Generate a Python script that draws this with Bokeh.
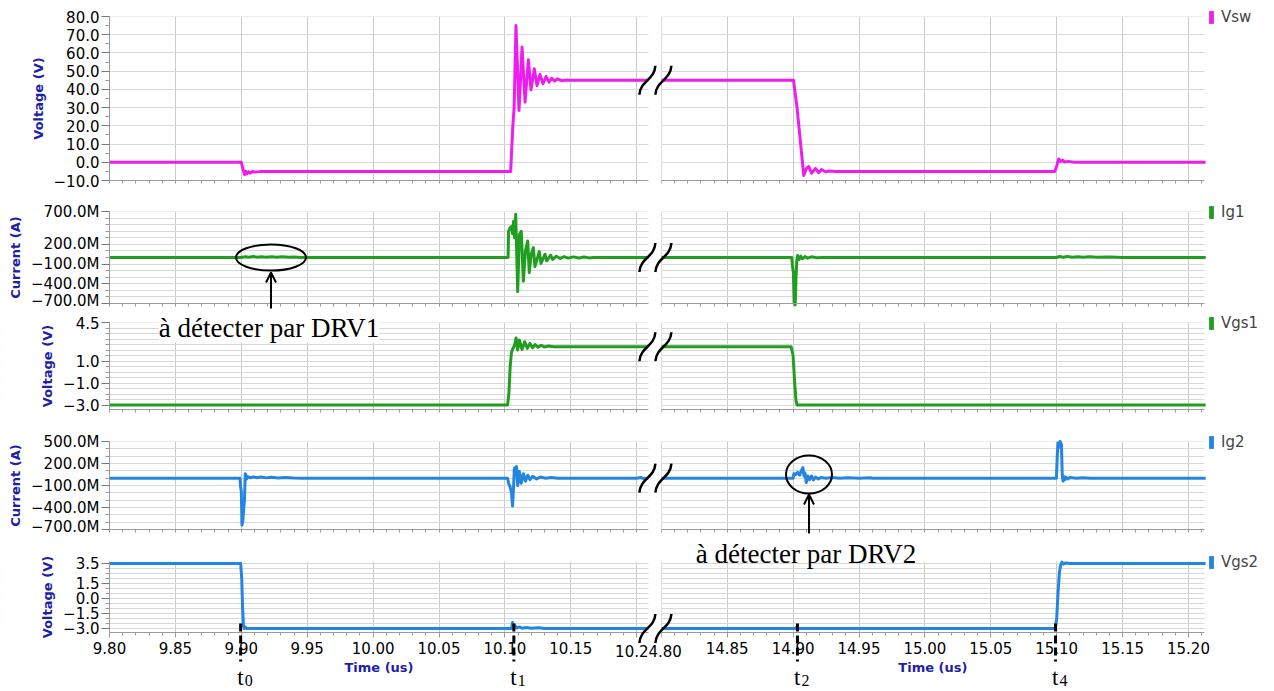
from bokeh.plotting import figure
from bokeh.layouts import column
from bokeh.models import (Range1d, FixedTicker, Legend, LegendItem, Label, Arrow,
                          OpenHead, BoxAnnotation)
from bokeh.embed import file_html
from bokeh.resources import INLINE

# ---------------- data (time in us, value) ----------------
VSW_LEFT = [(9.8000, 0.0), (9.9000, 0.0), (9.9012, -3.5), (9.9025, -6.8), (9.9035, -5.0),
            (9.9045, -6.3), (9.9055, -5.2), (9.9068, -5.9), (9.9085, -5.1), (9.9110, -5.4),
            (9.9150, -5.0), (10.1044, -5.0), (10.1052, 8.0), (10.1061, 21.0), (10.1070, 30.0),
            (10.1084, 75.0), (10.1107, 28.4), (10.1130, 63.2), (10.1153, 33.0), (10.1178, 56.2),
            (10.1198, 39.8), (10.1223, 51.3), (10.1244, 42.1), (10.1266, 48.2), (10.1289, 43.1),
            (10.1312, 47.1), (10.1335, 44.0), (10.1355, 46.1), (10.1378, 44.5), (10.1398, 45.8),
            (10.1430, 44.8), (10.1470, 45.2), (10.1500, 45.0), (10.2090, 45.0)]
VSW_RIGHT = [(14.8000, 45.0), (14.9003, 45.0), (14.9030, 30.0), (14.9060, 8.0), (14.9081, -7.3),
             (14.9100, -3.5), (14.9119, -2.3), (14.9140, -6.0), (14.9170, -3.4), (14.9193, -5.7),
             (14.9215, -4.0), (14.9246, -5.2), (14.9280, -4.8), (14.9320, -5.0), (15.0985, -5.0),
             (15.1000, -2.0), (15.1015, 1.8), (15.1030, 0.4), (15.1045, 1.2), (15.1060, 0.1),
             (15.1090, 0.5), (15.1130, 0.0), (15.2130, 0.0)]

IG1_LEFT = [(9.8000, 0.0), (9.9000, 0.0), (9.9030, 0.012), (9.9060, 0.004), (9.9090, 0.014),
            (9.9120, 0.005), (9.9150, 0.013), (9.9190, 0.004), (9.9230, 0.012), (9.9270, 0.003),
            (9.9310, 0.011), (9.9360, 0.003), (9.9400, 0.008), (9.9450, 0.0), (10.1024, 0.0),
            (10.1028, 0.40), (10.1040, 0.45), (10.1050, 0.47), (10.1058, 0.36), (10.1066, 0.55),
            (10.1074, 0.30), (10.1082, 0.66), (10.1097, -0.52), (10.1110, 0.35), (10.1124, 0.40),
            (10.1140, -0.36), (10.1156, 0.10), (10.1173, 0.25), (10.1185, -0.23), (10.1200, 0.05),
            (10.1216, 0.15), (10.1228, -0.14), (10.1261, 0.09), (10.1274, -0.09), (10.1304, 0.05),
            (10.1317, -0.05), (10.1347, 0.035), (10.1363, -0.03), (10.1390, 0.02), (10.1420, -0.015),
            (10.1450, 0.012), (10.1480, -0.01), (10.1520, 0.01), (10.1560, -0.008), (10.1600, 0.008),
            (10.1640, -0.006), (10.1671, 0.0), (10.2090, 0.0)]
IG1_RIGHT = [(14.8000, 0.0), (14.8990, 0.0), (14.8996, -0.15), (14.9002, -0.22), (14.9008, -0.70),
             (14.9016, -0.72), (14.9022, -0.30), (14.9028, -0.05), (14.9034, 0.03), (14.9045, -0.03),
             (14.9058, 0.02), (14.9070, -0.02), (14.9090, 0.015), (14.9110, -0.01), (14.9140, 0.01),
             (14.9180, -0.005), (14.9220, 0.0), (15.1000, 0.0), (15.1020, 0.015), (15.1050, 0.003),
             (15.1080, 0.014), (15.1120, 0.004), (15.1160, 0.012), (15.1200, 0.003), (15.1250, 0.01),
             (15.1300, 0.002), (15.1400, 0.006), (15.1500, 0.0), (15.2130, 0.0)]

VGS1_LEFT = [(9.8000, -3.0), (10.1020, -3.0), (10.1030, -2.0), (10.1040, 0.5), (10.1050, 1.8),
             (10.1060, 2.1), (10.1075, 2.5), (10.1085, 3.1), (10.1097, 2.0), (10.1110, 2.9),
             (10.1130, 2.05), (10.1150, 2.75), (10.1170, 2.15), (10.1190, 2.6), (10.1210, 2.2),
             (10.1230, 2.5), (10.1250, 2.25), (10.1275, 2.42), (10.1300, 2.28), (10.1330, 2.36),
             (10.1370, 2.3), (10.2090, 2.3)]
VGS1_RIGHT = [(14.8000, 2.3), (14.8985, 2.3), (14.9000, 1.5), (14.9012, -1.0), (14.9022, -2.6),
              (14.9030, -3.0), (15.2130, -3.0)]

IG2_LEFT = [(9.8000, 0.0), (9.8990, 0.0), (9.8995, -0.12), (9.9000, -0.18), (9.9005, -0.64),
            (9.9012, -0.58), (9.9018, -0.42), (9.9024, -0.30), (9.9030, 0.06), (9.9036, 0.04),
            (9.9042, -0.01), (9.9050, 0.02), (9.9070, 0.005), (9.9090, 0.018), (9.9120, 0.006),
            (9.9150, 0.015), (9.9190, 0.004), (9.9230, 0.012), (9.9280, 0.003), (9.9330, 0.01),
            (9.9400, 0.002), (9.9470, 0.0), (10.1020, 0.0), (10.1030, -0.08), (10.1040, -0.12),
            (10.1050, -0.20), (10.1058, -0.38), (10.1065, -0.15), (10.1072, 0.14), (10.1080, 0.06),
            (10.1088, 0.16), (10.1097, -0.10), (10.1110, 0.09), (10.1124, -0.07), (10.1140, 0.06),
            (10.1156, -0.04), (10.1173, 0.04), (10.1190, -0.02), (10.1210, 0.025), (10.1240, -0.01),
            (10.1270, 0.015), (10.1310, 0.0), (10.1350, 0.008), (10.1400, 0.0), (10.2000, 0.0),
            (10.2030, 0.01), (10.2050, -0.005), (10.2070, 0.0), (10.2090, 0.0)]
IG2_RIGHT = [(14.8000, 0.0), (14.9000, 0.0), (14.9006, 0.06), (14.9020, 0.05), (14.9035, 0.08),
             (14.9050, 0.04), (14.9062, 0.10), (14.9074, 0.145), (14.9082, 0.03), (14.9090, 0.07),
             (14.9100, -0.06), (14.9112, 0.03), (14.9125, -0.02), (14.9140, 0.03), (14.9155, -0.025),
             (14.9170, 0.015), (14.9190, -0.01), (14.9210, 0.008), (14.9250, 0.0), (14.9300, 0.008),
             (14.9350, 0.0), (14.9420, 0.007), (14.9500, 0.0), (14.9587, 0.005), (14.9600, 0.0),
             (15.0998, 0.0), (15.1004, 0.30), (15.1010, 0.48), (15.1018, 0.42), (15.1026, 0.50),
             (15.1036, 0.46), (15.1042, 0.05), (15.1048, -0.04), (15.1055, 0.02), (15.1062, -0.02),
             (15.1070, 0.015), (15.1085, -0.01), (15.1100, 0.008), (15.1150, 0.0), (15.1200, 0.005),
             (15.1250, 0.0), (15.2130, 0.0)]

VGS2_LEFT = [(9.8000, 3.45), (9.8995, 3.45), (9.9003, 2.0), (9.9010, -1.0), (9.9016, -2.6),
             (9.9022, -3.0), (9.9030, -2.85), (9.9040, -3.0), (10.1050, -3.0), (10.1058, -2.4),
             (10.1066, -2.9), (10.1075, -2.7), (10.1090, -2.95), (10.1110, -2.85), (10.1130, -2.97),
             (10.1160, -2.9), (10.1200, -2.97), (10.1260, -2.93), (10.1300, -3.0), (10.2090, -3.0)]
VGS2_RIGHT = [(14.8000, -3.0), (14.9020, -3.0), (14.9030, -2.8), (14.9040, -3.0), (15.0990, -3.0),
              (15.1000, -2.0), (15.1010, 0.5), (15.1020, 2.5), (15.1030, 3.3), (15.1040, 3.6),
              (15.1050, 3.4), (15.1070, 3.5), (15.1100, 3.45), (15.2130, 3.45)]

# event markers
T_MARKS = [9.8995, 10.1068, 14.9033, 15.0991]
T_SUBS = ["0", "1", "2", "4"]

# x ticks (two segments)
X_TICKS_LEFT = [9.80, 9.85, 9.90, 9.95, 10.00, 10.05, 10.10, 10.15, 10.20]
X_LABELS_LEFT = ["9.80", "9.85", "9.90", "9.95", "10.00", "10.05", "10.10", "10.15", ""]
X_TICKS_RIGHT = [14.80, 14.85, 14.90, 14.95, 15.00, 15.05, 15.10, 15.15, 15.20]
X_LABELS_RIGHT = ["", "14.85", "14.90", "14.95", "15.00", "15.05", "15.10", "15.15", "15.20"]
BREAK_TICK_LABEL = "10.24.80"

# y ticks
VSW_TICKS = [-10.0, 0.0, 10.0, 20.0, 30.0, 40.0, 50.0, 60.0, 70.0, 80.0]
VSW_LABELS = ["\u221210.0", "0.0", "10.0", "20.0", "30.0", "40.0", "50.0", "60.0", "70.0", "80.0"]
VSW_MINOR = [-5.0, 5.0, 15.0, 25.0, 35.0, 45.0, 55.0, 65.0, 75.0]
IG1_TICKS = [-0.7, -0.4, -0.1, 0.2, 0.7]
IG1_LABELS = ["\u2212700.0M", "\u2212400.0M", "\u2212100.0M", "200.0M", "700.0M"]
IG1_MINOR = [-0.6, -0.5, -0.3, -0.2, 0.0, 0.1, 0.3, 0.4, 0.5, 0.6]
VGS1_TICKS = [-3.0, -1.0, 1.0, 4.5]
VGS1_LABELS = ["\u22123.0", "\u22121.0", "1.0", "4.5"]
VGS1_MINOR = [-2.5, -2.0, -1.5, -0.5, 0.0, 0.5, 1.5, 2.0, 2.5, 3.0, 3.5, 4.0]
IG2_TICKS = [-0.7, -0.4, -0.1, 0.2, 0.5]
IG2_LABELS = ["\u2212700.0M", "\u2212400.0M", "\u2212100.0M", "200.0M", "500.0M"]
IG2_MINOR = [-0.6, -0.5, -0.3, -0.2, 0.0, 0.1, 0.3, 0.4]
VGS2_TICKS = [-3.0, -1.5, 0.0, 1.5, 3.5]
VGS2_LABELS = ["\u22123.0", "\u22121.5", "0.0", "1.5", "3.5"]
VGS2_MINOR = [-2.5, -2.0, -1.0, -0.5, 0.5, 1.0, 2.0, 2.5, 3.0]

# ---------------- style / layout constants ----------------
MAGENTA = "#ee1cee"
GREEN = "#1f9e1f"
BLUE = "#2385e2"
TITLE_BLUE = "#1e1eaa"
GRID_H = "#d8d8d8"
GRID_V = "#cbcbcb"
AXIS_GRAY = "#9a9a9a"
TICK_FONT = "DejaVu Sans"
SERIF = "Liberation Serif"
NAN = float("nan")

FIG_W = 1272
FRAME_X0 = 109                    # page px of the panels' left edge
PX = 1.0 / 1318.0                 # us per pixel
X_START = 9.80
X_RANGE_START = X_START - FRAME_X0 * PX           # plotting frame spans the whole canvas
X_RANGE_END = X_START + (FIG_W - FRAME_X0) * PX
X_END = X_START + (1204 - FRAME_X0) * PX          # end of the plotted panel
LEFT_END = X_START + (648 - FRAME_X0) * PX
GAP_END = X_START + (660.8 - FRAME_X0) * PX
RIGHT_START = 14.80
SHIFT = GAP_END - RIGHT_START


def xmap(t):
    return round(t + SHIFT, 6) if t > 12 else t


def xpage(px):
    return X_START + (px - FRAME_X0) * PX


rows = [
    dict(name="Vsw", left=VSW_LEFT, right=VSW_RIGHT, color=MAGENTA, ylabel="Voltage (V)",
         yr=(-10.0, 80.0), ticks=VSW_TICKS, labels=VSW_LABELS, minor=VSW_MINOR, mgrid=False,
         canvas=(0, 195), frame=(16, 180)),
    dict(name="Ig1", left=IG1_LEFT, right=IG1_RIGHT, color=GREEN, ylabel="Current (A)",
         yr=(-0.7, 0.7), ticks=IG1_TICKS, labels=IG1_LABELS, minor=IG1_MINOR, mgrid=True,
         canvas=(195, 309), frame=(211, 303)),
    dict(name="Vgs1", left=VGS1_LEFT, right=VGS1_RIGHT, color=GREEN, ylabel="Voltage (V)",
         yr=(-3.4, 4.5), ticks=VGS1_TICKS, labels=VGS1_LABELS, minor=VGS1_MINOR, mgrid=True,
         canvas=(309, 428), frame=(322, 409)),
    dict(name="Ig2", left=IG2_LEFT, right=IG2_RIGHT, color=BLUE, ylabel="Current (A)",
         yr=(-0.7, 0.5), ticks=IG2_TICKS, labels=IG2_LABELS, minor=IG2_MINOR, mgrid=True,
         canvas=(428, 535), frame=(441, 529)),
    dict(name="Vgs2", left=VGS2_LEFT, right=VGS2_RIGHT, color=BLUE, ylabel="Voltage (V)",
         yr=(-3.4, 3.65), ticks=VGS2_TICKS, labels=VGS2_LABELS, minor=VGS2_MINOR, mgrid=True,
         canvas=(535, 690), frame=(561, 632)),
]


def scale(r):
    y0, y1 = r["yr"]
    ft, fb = r["frame"]
    return (y1 - y0) / (fb - ft)


def ydata(r, page_y):
    return r["yr"][1] - (page_y - r["frame"][0]) * scale(r)


x_major = [xmap(t) for t in X_TICKS_LEFT] + [xmap(t) for t in X_TICKS_RIGHT]
x_major_labels = X_LABELS_LEFT + X_LABELS_RIGHT
x_minor = ([round(9.80 + 0.01 * i, 2) for i in range(1, 41) if i % 5] +
           [xmap(round(14.80 + 0.01 * i, 2)) for i in range(1, 42) if i % 5])

figs = []
for k, r in enumerate(rows):
    last = (k == len(rows) - 1)
    ct, cb = r["canvas"]
    ft, fb = r["frame"]
    y0, y1 = r["yr"]
    # the plotting frame fills the canvas; the drawn panel is X_START..X_END, y0..y1
    p = figure(width=FIG_W, height=cb - ct, x_range=Range1d(X_RANGE_START, X_RANGE_END),
               y_range=Range1d(ydata(r, cb), ydata(r, ct)), output_backend="svg",
               toolbar_location=None, min_border_left=0, min_border_right=0,
               min_border_top=0, min_border_bottom=0)
    p.outline_line_color = None
    p.background_fill_color = "white"
    p.border_fill_color = "white"

    # x axis drawn along the bottom of the panel
    if last:
        xt = FixedTicker(ticks=x_major, minor_ticks=x_minor)
        p.xaxis.ticker = xt
        p.xaxis.major_label_overrides = dict(zip(x_major, x_major_labels))
        p.xaxis.major_label_text_font = TICK_FONT
        p.xaxis.major_label_text_font_size = "15px"
        p.xaxis.major_label_text_color = "black"
        p.xaxis.major_label_standoff = 4
    else:
        xt = FixedTicker(ticks=[], minor_ticks=sorted(x_major + x_minor))
        p.xaxis.ticker = xt
    p.xaxis.fixed_location = y0
    p.xaxis.bounds = (X_START, X_END)
    p.xgrid.ticker = FixedTicker(ticks=x_major)
    p.xaxis.axis_line_color = AXIS_GRAY
    p.xaxis.major_tick_line_color = AXIS_GRAY
    p.xaxis.minor_tick_line_color = AXIS_GRAY
    p.xaxis.major_tick_in = 0
    p.xaxis.minor_tick_in = 0
    p.xaxis.major_tick_out = 5
    p.xaxis.minor_tick_out = 3
    p.xgrid.grid_line_color = GRID_V

    # y axis along the left edge of the panel
    yt = FixedTicker(ticks=r["ticks"], minor_ticks=r["minor"])
    p.yaxis.ticker = yt
    p.ygrid.ticker = yt
    p.yaxis.fixed_location = X_START
    p.yaxis.bounds = (y0, y1)
    p.yaxis.major_label_overrides = dict(zip(r["ticks"], r["labels"]))
    p.yaxis.axis_label = r["ylabel"]
    p.yaxis.axis_label_text_font = TICK_FONT
    p.yaxis.axis_label_text_font_size = "13px"
    p.yaxis.axis_label_text_font_style = "bold"
    p.yaxis.axis_label_text_color = TITLE_BLUE
    p.yaxis.axis_label_standoff = 5
    p.yaxis.major_label_text_font = TICK_FONT
    p.yaxis.major_label_text_font_size = "15px"
    p.yaxis.major_label_text_color = "black"
    p.yaxis.major_label_standoff = 2
    p.yaxis.axis_line_color = AXIS_GRAY
    p.yaxis.major_tick_line_color = "#777777"
    p.yaxis.minor_tick_line_color = AXIS_GRAY
    p.yaxis.major_tick_in = 0
    p.yaxis.minor_tick_in = 0
    p.yaxis.major_tick_out = 8
    p.yaxis.minor_tick_out = 4
    p.ygrid.grid_line_color = GRID_H
    if r["mgrid"]:
        p.ygrid.minor_grid_line_color = GRID_H

    # white margins around the panel (hide grid lines there)
    for kw in (dict(bottom=y1), dict(top=y0), dict(left=X_END), dict(right=X_START)):
        p.add_layout(BoxAnnotation(fill_color="white", fill_alpha=1.0, line_alpha=0,
                                   level="underlay", **kw))

    # signal, two segments
    for seg in (r["left"], r["right"]):
        xs = [xmap(t) for t, v in seg]
        ys = [v for t, v in seg]
        p.line(xs, ys, line_color=r["color"], line_width=3, line_join="round")

    # white gap between the two time windows
    p.add_layout(BoxAnnotation(left=LEFT_END, right=GAP_END, fill_color="white",
                               fill_alpha=1.0, line_alpha=0))

    # break symbols
    c = r["left"][-1][1]
    dy = 14.5 * scale(r)
    cx = (LEFT_END + GAP_END) / 2
    for a, b in ((cx - 15.5 * PX, cx + 0.5 * PX), (cx + 0.5 * PX, cx + 16.5 * PX)):
        p.bezier(x0=[a], y0=[c - dy], x1=[b], y1=[c + dy], cx0=[a + 1 * PX], cy0=[c],
                 cx1=[b - 1 * PX], cy1=[c], line_color="black", line_width=2.5, level="overlay")

    # legend: coloured bar + name, right of the panel
    swatch = p.quad(left=[NAN], right=[NAN], top=[NAN], bottom=[NAN],
                    fill_color=r["color"], line_color=None)
    legend_top = ft - 6
    leg = Legend(items=[LegendItem(label=r["name"], renderers=[swatch])],
                 location=(1208, cb - legend_top - 16), glyph_width=6,
                 glyph_height=16, label_height=16, label_standoff=7, padding=0, margin=0,
                 spacing=0, border_line_color=None, background_fill_alpha=0,
                 label_text_font=TICK_FONT, label_text_font_size="15px")
    p.add_layout(leg)
    r["fig"] = p
    figs.append(p)

# ---- annotations ----
r_ig1, r_vgs1, r_ig2, r_vgs2 = rows[1], rows[2], rows[3], rows[4]
p_ig1, p_vgs1, p_ig2, p_vgs2 = r_ig1["fig"], r_vgs1["fig"], r_ig2["fig"], r_vgs2["fig"]

x_a1 = xpage(270.5)
p_ig1.ellipse(x=[x_a1], y=[0.0], width=70, height=26, width_units="screen",
              height_units="screen", fill_color=None, line_color="black", line_width=2)
p_ig1.add_layout(Arrow(end=OpenHead(size=10, line_width=2, line_color="black"),
                       x_start=x_a1, y_start=ydata(r_ig1, 308), x_end=x_a1,
                       y_end=ydata(r_ig1, 272), line_width=2, line_color="black"))
p_vgs1.add_layout(Label(x=xpage(268.5), y=ydata(r_vgs1, 327),
                        text="à détecter par DRV1", text_font=SERIF, text_font_size="27px",
                        text_align="center", text_baseline="alphabetic", text_color="black",
                        background_fill_color="white"))

x_a2 = xmap(RIGHT_START + (808.5 - 660.8) * PX)
p_ig2.ellipse(x=[x_a2], y=[ydata(r_ig2, 474)], width=46, height=38, width_units="screen",
              height_units="screen", fill_color=None, line_color="black", line_width=2)
p_ig2.add_layout(Arrow(end=OpenHead(size=10, line_width=2, line_color="black"),
                       x_start=x_a2, y_start=ydata(r_ig2, 533), x_end=x_a2,
                       y_end=ydata(r_ig2, 494), line_width=2, line_color="black"))

# event markers t0, t1, t2, t4: dashed ticks below the time axis
xm_all = [xmap(t) for t in T_MARKS]
p_vgs2.segment(x0=xm_all, y0=[ydata(r_vgs2, 623)] * len(xm_all), x1=xm_all,
               y1=[ydata(r_vgs2, 661)] * len(xm_all), line_color="black", line_width=3,
               line_dash="8 4", level="overlay")

p_vgs2.add_layout(Label(x=xmap(RIGHT_START + (805.5 - 660.8) * PX), y=ydata(r_vgs2, 553),
                        text="à détecter par DRV2", text_font=SERIF, text_font_size="27px",
                        text_align="center", text_baseline="alphabetic", text_color="black"))

# combined tick label at the break and the two axis titles
p_vgs2.add_layout(Label(x=LEFT_END, y=ydata(r_vgs2, 650), text=BREAK_TICK_LABEL,
                        text_font=TICK_FONT, text_font_size="15px", text_align="center",
                        text_baseline="middle", text_color="black"))
for xc in ((X_START + LEFT_END) / 2, (GAP_END + X_END) / 2):
    p_vgs2.add_layout(Label(x=xc, y=ydata(r_vgs2, 667), text="Time (us)", text_font=TICK_FONT,
                            text_font_size="13px", text_font_style="bold",
                            text_color=TITLE_BLUE, text_align="center", text_baseline="middle"))

for xm, sub in zip(xm_all, T_SUBS):
    p_vgs2.add_layout(Label(x=xm, y=ydata(r_vgs2, 677), x_offset=-3.5, text="t",
                            text_font=SERIF, text_font_size="23px", text_align="left",
                            text_baseline="alphabetic", text_color="black"))
    p_vgs2.add_layout(Label(x=xm, y=ydata(r_vgs2, 680), x_offset=4.0, text=sub,
                            text_font=SERIF, text_font_size="16px", text_align="left",
                            text_baseline="alphabetic", text_color="black"))

layout = column(*figs, spacing=0)
open("out.html", "w").write(file_html(layout, INLINE))
